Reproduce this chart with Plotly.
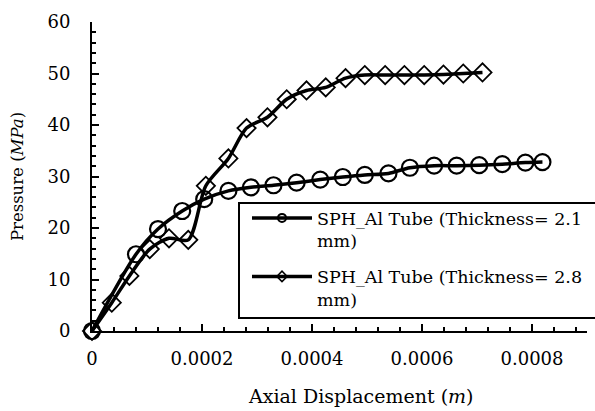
import plotly.graph_objects as go

# Data
x_21 = [0, 0.00008, 0.00012, 0.000164, 0.000204, 0.000248, 0.000289, 0.00033, 0.000372,
        0.000415, 0.000456, 0.000496, 0.000539, 0.000578, 0.000622, 0.000663, 0.000704,
        0.000746, 0.000788, 0.000819]
y_21 = [0, 14.9, 19.8, 23.3, 25.6, 27.2, 27.9, 28.3, 28.8, 29.4, 29.9, 30.3, 30.6, 31.7,
        32.1, 32.1, 32.2, 32.4, 32.7, 32.8]

x_28 = [0, 0.000036, 0.000068, 0.000105, 0.00014, 0.000175, 0.000207, 0.000248, 0.000281,
        0.000319, 0.000354, 0.00039, 0.000425, 0.000461, 0.000496, 0.000533, 0.000568,
        0.000604, 0.000639, 0.000675, 0.00071]
y_28 = [0, 5.5, 10.7, 15.9, 18.0, 17.7, 28.2, 33.5, 39.4, 41.5, 45.0, 46.7, 47.3, 49.1,
        49.7, 49.7, 49.7, 49.7, 49.8, 50.0, 50.2]

name_21 = "SPH_Al Tube (Thickness= 2.1<br>mm)"
name_28 = "SPH_Al Tube (Thickness= 2.8<br>mm)"
x_title = "Axial Displacement (<i>m</i>)"
y_title = "Pressure (<i>MPa</i>)"

FONT = "DejaVu Serif"
W, H = 595, 411
L, R, T, B = 92, 8, 22, 80

fig = go.Figure()
fig.add_trace(go.Scatter(x=x_21, y=y_21, mode="lines+markers", line_shape="spline",
                         line=dict(color="black", width=3.5, smoothing=0.8),
                         marker=dict(symbol="circle-open", size=16, color="black",
                                     line=dict(width=2.2, color="black")),
                         showlegend=False, cliponaxis=False))
fig.add_trace(go.Scatter(x=x_28, y=y_28, mode="lines+markers", line_shape="spline",
                         line=dict(color="black", width=3.5, smoothing=0.8),
                         marker=dict(symbol="diamond-open", size=14, color="black",
                                     line=dict(width=1.8, color="black")),
                         showlegend=False, cliponaxis=False))
# legend entries
fig.add_trace(go.Scatter(x=[None], y=[None], mode="lines+markers", name=name_21,
                         legendgroup="a",
                         line=dict(color="black", width=3.5),
                         marker=dict(symbol="circle-open", size=8, color="black",
                                     line=dict(width=2, color="black"))))
fig.add_trace(go.Scatter(x=[None], y=[None], mode="lines+markers", name=name_28,
                         legendgroup="b",
                         line=dict(color="black", width=3.5),
                         marker=dict(symbol="diamond-open", size=8, color="black",
                                     line=dict(width=1.5, color="black"))))

pw = W - L - R
ph = H - T - B

def px_x(p):
    return (p - L) / pw

def px_y(p):
    return (H - B - p) / ph

fig.add_shape(type="rect", xref="paper", yref="paper",
              x0=px_x(239), x1=px_x(900), y0=px_y(318), y1=px_y(203),
              line=dict(color="black", width=2), fillcolor="white", layer="above")

fig.add_annotation(text=x_title, xref="paper", yref="paper",
                   x=px_x(361), y=px_y(396), xanchor="center", yanchor="middle",
                   showarrow=False, font=dict(family=FONT, size=19, color="black"))

fig.update_layout(
    width=W, height=H,
    margin=dict(l=L, r=R, t=T, b=B, autoexpand=False),
    paper_bgcolor="white", plot_bgcolor="white",
    font=dict(family=FONT, size=17, color="black"),
    legend=dict(x=px_x(247), y=px_y(200), xanchor="left", yanchor="top",
                bgcolor="rgba(0,0,0,0)", borderwidth=0, valign="top",
                font=dict(family=FONT, size=17.5, color="black"),
                tracegroupgap=10, itemsizing="trace", itemwidth=60),
    xaxis=dict(range=[0, 0.0009], dtick=0.0002, tick0=0, tickformat="~g",
               showgrid=False, zeroline=False, showline=True, linecolor="black",
               linewidth=2, ticks="inside", ticklen=7, tickwidth=2, tickcolor="black",
               minor=dict(dtick=0.00004, ticks="inside", ticklen=4, tickwidth=1.5,
                          tickcolor="black", showgrid=False),
               tickfont=dict(family=FONT, size=18), ticklabelstandoff=10),
    yaxis=dict(range=[0, 60], dtick=10, showgrid=False, zeroline=False, showline=True,
               linecolor="black", linewidth=2, ticks="inside", ticklen=7, tickwidth=2,
               tickcolor="black",
               minor=dict(dtick=2, ticks="inside", ticklen=4, tickwidth=1.5,
                          tickcolor="black", showgrid=False),
               title=dict(text=y_title, standoff=20,
                          font=dict(family=FONT, size=16.5)),
               tickfont=dict(family=FONT, size=18), ticklabelstandoff=16),
)

fig.write_html("out.html")
